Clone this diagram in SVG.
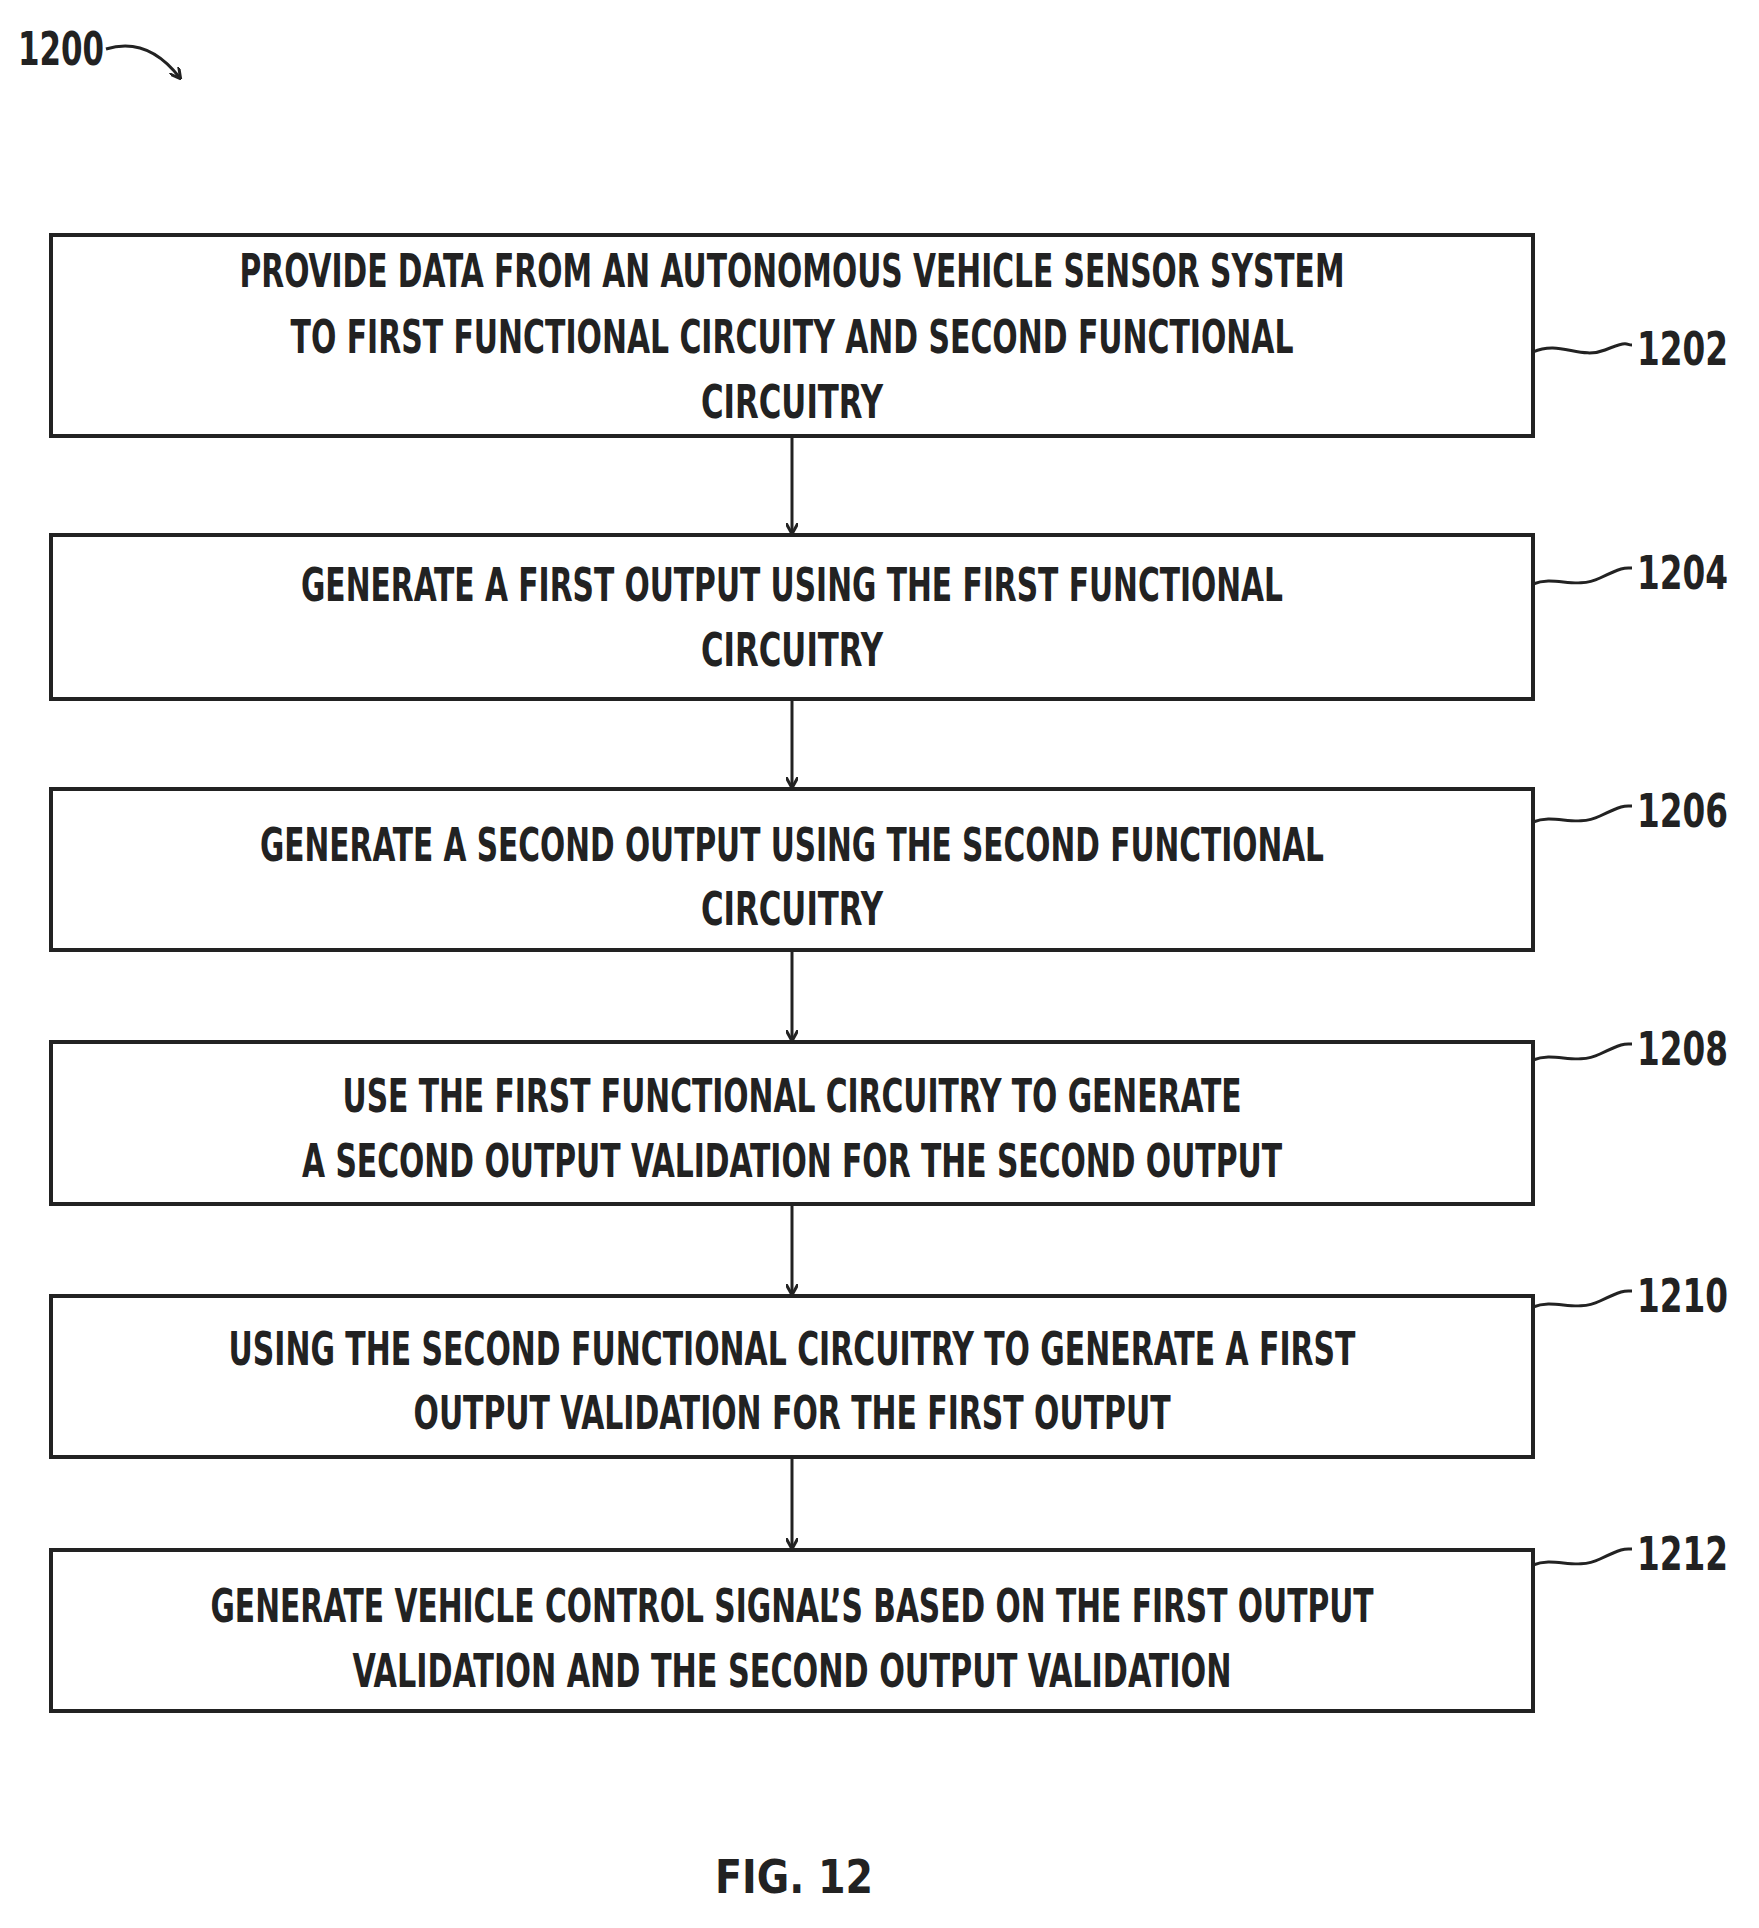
<svg xmlns="http://www.w3.org/2000/svg" width="1759" height="1928" viewBox="0 0 1759 1928">
<style>
.box{fill:#fff;stroke:#222;stroke-width:4}
.t{font-family:"DejaVu Sans Condensed","DejaVu Sans",sans-serif;font-weight:bold;font-size:46px;fill:#222;text-anchor:middle}
.lbl{font-family:"DejaVu Sans Condensed","DejaVu Sans",sans-serif;font-weight:bold;font-size:46px;fill:#222}
.w{fill:none;stroke:#222;stroke-width:3}
</style>
<defs><marker id="ah" markerWidth="12" markerHeight="12" refX="10" refY="6" orient="auto" markerUnits="userSpaceOnUse"><path d="M0,0 L11,6 L0,12" fill="none" stroke="#222" stroke-width="3"/></marker></defs>
<g id="ref1200"><text class="lbl" x="18" y="65" textLength="86" lengthAdjust="spacingAndGlyphs">1200</text><path class="w" d="M106,49 C135,40 160,52 180,78" marker-end="url(#ah)"/></g>
<g id="n1202"><rect class="box" x="51" y="235" width="1482" height="201"/>
<text class="t" x="792" y="287" textLength="1105" lengthAdjust="spacingAndGlyphs">PROVIDE DATA FROM AN AUTONOMOUS VEHICLE SENSOR SYSTEM</text>
<text class="t" x="792" y="353" textLength="1003" lengthAdjust="spacingAndGlyphs">TO FIRST FUNCTIONAL CIRCUITY AND SECOND FUNCTIONAL</text>
<text class="t" x="792" y="418" textLength="182" lengthAdjust="spacingAndGlyphs">CIRCUITRY</text></g>
<g id="n1204"><rect class="box" x="51" y="535" width="1482" height="164"/>
<text class="t" x="792" y="601" textLength="982" lengthAdjust="spacingAndGlyphs">GENERATE A FIRST OUTPUT USING THE FIRST FUNCTIONAL</text>
<text class="t" x="792" y="666" textLength="182" lengthAdjust="spacingAndGlyphs">CIRCUITRY</text></g>
<g id="n1206"><rect class="box" x="51" y="789" width="1482" height="161"/>
<text class="t" x="792" y="861" textLength="1064" lengthAdjust="spacingAndGlyphs">GENERATE A SECOND OUTPUT USING THE SECOND FUNCTIONAL</text>
<text class="t" x="792" y="925" textLength="182" lengthAdjust="spacingAndGlyphs">CIRCUITRY</text></g>
<g id="n1208"><rect class="box" x="51" y="1042" width="1482" height="162"/>
<text class="t" x="792" y="1112" textLength="899" lengthAdjust="spacingAndGlyphs">USE THE FIRST FUNCTIONAL CIRCUITRY TO GENERATE</text>
<text class="t" x="792" y="1177" textLength="980" lengthAdjust="spacingAndGlyphs">A SECOND OUTPUT VALIDATION FOR THE SECOND OUTPUT</text></g>
<g id="n1210"><rect class="box" x="51" y="1296" width="1482" height="161"/>
<text class="t" x="792" y="1365" textLength="1127" lengthAdjust="spacingAndGlyphs">USING THE SECOND FUNCTIONAL CIRCUITRY TO GENERATE A FIRST</text>
<text class="t" x="792" y="1429" textLength="757" lengthAdjust="spacingAndGlyphs">OUTPUT VALIDATION FOR THE FIRST OUTPUT</text></g>
<g id="n1212"><rect class="box" x="51" y="1550" width="1482" height="161"/>
<text class="t" x="792" y="1622" textLength="1163" lengthAdjust="spacingAndGlyphs">GENERATE VEHICLE CONTROL SIGNAL’S BASED ON THE FIRST OUTPUT</text>
<text class="t" x="792" y="1687" textLength="879" lengthAdjust="spacingAndGlyphs">VALIDATION AND THE SECOND OUTPUT VALIDATION</text></g>
<g id="labels">
<path class="w" d="M1533,352 C1560,340 1580,360 1605,350 S1625,345 1632,345"/><text class="lbl" x="1637" y="365" textLength="91" lengthAdjust="spacingAndGlyphs">1202</text>
<path class="w" d="M1533,584 C1555,575 1575,590 1600,578 S1625,568 1632,568"/><text class="lbl" x="1637" y="589" textLength="91" lengthAdjust="spacingAndGlyphs">1204</text>
<path class="w" d="M1533,822 C1555,813 1575,828 1600,816 S1625,806 1632,806"/><text class="lbl" x="1637" y="827" textLength="91" lengthAdjust="spacingAndGlyphs">1206</text>
<path class="w" d="M1533,1060 C1555,1051 1575,1066 1600,1054 S1625,1044 1632,1044"/><text class="lbl" x="1637" y="1065" textLength="91" lengthAdjust="spacingAndGlyphs">1208</text>
<path class="w" d="M1533,1307 C1555,1298 1575,1313 1600,1301 S1625,1291 1632,1291"/><text class="lbl" x="1637" y="1312" textLength="91" lengthAdjust="spacingAndGlyphs">1210</text>
<path class="w" d="M1533,1565 C1555,1556 1575,1571 1600,1559 S1625,1549 1632,1549"/><text class="lbl" x="1637" y="1570" textLength="91" lengthAdjust="spacingAndGlyphs">1212</text>
</g>
<g id="connectors">
<line class="w" x1="792" y1="436" x2="792" y2="533" marker-end="url(#ah)"/>
<line class="w" x1="792" y1="699" x2="792" y2="787" marker-end="url(#ah)"/>
<line class="w" x1="792" y1="950" x2="792" y2="1040" marker-end="url(#ah)"/>
<line class="w" x1="792" y1="1204" x2="792" y2="1294" marker-end="url(#ah)"/>
<line class="w" x1="792" y1="1457" x2="792" y2="1548" marker-end="url(#ah)"/>
</g>
<text class="t" x="794" y="1893" font-size="62" textLength="158" lengthAdjust="spacingAndGlyphs">FIG. 12</text>
</svg>
